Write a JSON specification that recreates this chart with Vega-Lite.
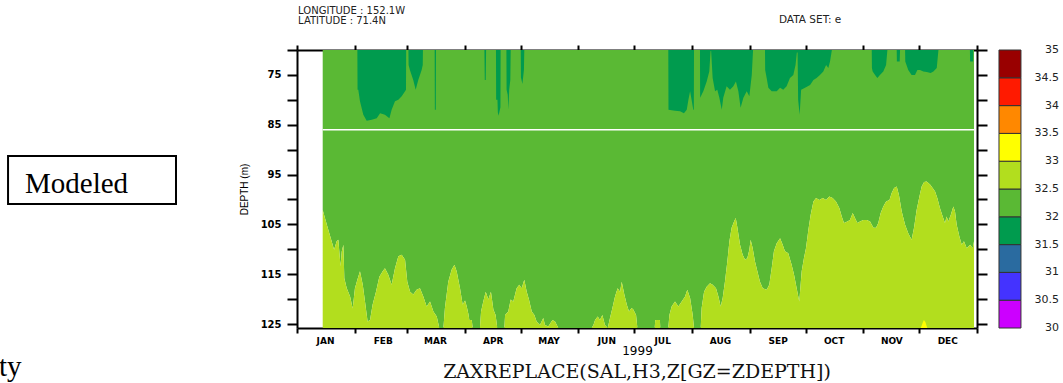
{
"$schema":"https://vega.github.io/schema/vega-lite/v6.json",
"width":680,"height":278,
"autosize":{"type":"none"},
"padding":{"left":297,"top":50,"right":86,"bottom":55},
"background":"white",
"config":{"view":{"stroke":null},"axis":{"grid":false,"domainColor":"black","tickColor":"black","labelColor":"black","titleColor":"black","zindex":1}},
"datasets":{
"bot":[{"day":13.8,"d2":102.1},{"day":15.0,"d2":103.7},{"day":16.8,"d2":106.1},{"day":18.6,"d2":108.4},{"day":19.9,"d2":110.1},{"day":21.3,"d2":108.4},{"day":22.2,"d2":108.1},{"day":22.7,"d2":110.4},{"day":23.4,"d2":113.4},{"day":24.0,"d2":110.5},{"day":24.9,"d2":109.1},{"day":25.4,"d2":115.8},{"day":26.7,"d2":117.8},{"day":28.5,"d2":119.5},{"day":29.9,"d2":121.9},{"day":31.1,"d2":117.8},{"day":32.4,"d2":116.1},{"day":33.8,"d2":114.4},{"day":35.3,"d2":117.1},{"day":36.5,"d2":120.5},{"day":37.9,"d2":124.5},{"day":39.2,"d2":124.2},{"day":40.6,"d2":121.1},{"day":42.4,"d2":118.5},{"day":44.2,"d2":115.5},{"day":46.0,"d2":114.4},{"day":47.2,"d2":113.8},{"day":49.0,"d2":115.1},{"day":50.8,"d2":117.1},{"day":52.6,"d2":113.8},{"day":54.4,"d2":111.4},{"day":56.2,"d2":111.1},{"day":58.0,"d2":112.1},{"day":59.2,"d2":116.5},{"day":60.7,"d2":118.5},{"day":62.4,"d2":119.1},{"day":64.2,"d2":118.1},{"day":66.0,"d2":117.8},{"day":67.8,"d2":119.5},{"day":69.6,"d2":121.5},{"day":71.4,"d2":120.5},{"day":73.2,"d2":122.5},{"day":75.0,"d2":123.5},{"day":76.4,"d2":125.8},{"day":78.6,"d2":125.8},{"day":79.4,"d2":121.8},{"day":81.2,"d2":116.5},{"day":83.0,"d2":114.1},{"day":84.5,"d2":113.1},{"day":85.7,"d2":114.4},{"day":87.5,"d2":117.8},{"day":88.9,"d2":121.1},{"day":90.2,"d2":120.3},{"day":91.1,"d2":121.5},{"day":92.0,"d2":123.0},{"day":92.5,"d2":124.2},{"day":93.8,"d2":124.2},{"day":94.3,"d2":125.8},{"day":98.2,"d2":125.8},{"day":98.8,"d2":122.5},{"day":100.0,"d2":120.5},{"day":101.3,"d2":118.5},{"day":102.7,"d2":120.1},{"day":104.1,"d2":118.5},{"day":105.4,"d2":122.1},{"day":106.6,"d2":123.2},{"day":107.5,"d2":125.8},{"day":111.3,"d2":125.8},{"day":111.7,"d2":123.2},{"day":113.4,"d2":122.5},{"day":114.7,"d2":120.1},{"day":116.1,"d2":120.5},{"day":117.9,"d2":117.8},{"day":119.3,"d2":117.1},{"day":120.6,"d2":117.8},{"day":122.0,"d2":116.1},{"day":123.3,"d2":118.5},{"day":124.5,"d2":120.1},{"day":126.0,"d2":122.5},{"day":127.4,"d2":123.2},{"day":128.6,"d2":124.5},{"day":130.4,"d2":125.2},{"day":132.2,"d2":123.8},{"day":133.1,"d2":125.2},{"day":134.9,"d2":125.5},{"day":137.1,"d2":124.2},{"day":138.5,"d2":124.5},{"day":140.3,"d2":125.8},{"day":158.2,"d2":125.8},{"day":159.1,"d2":125.2},{"day":160.0,"d2":124.2},{"day":161.4,"d2":123.5},{"day":162.6,"d2":124.2},{"day":163.9,"d2":123.2},{"day":165.3,"d2":125.2},{"day":166.8,"d2":125.8},{"day":168.0,"d2":123.8},{"day":169.3,"d2":121.8},{"day":170.7,"d2":119.5},{"day":172.1,"d2":117.8},{"day":173.4,"d2":118.5},{"day":174.3,"d2":116.5},{"day":175.7,"d2":119.1},{"day":177.0,"d2":121.1},{"day":178.2,"d2":122.5},{"day":179.6,"d2":121.8},{"day":180.5,"d2":122.1},{"day":182.0,"d2":123.2},{"day":182.7,"d2":125.8},{"day":192.0,"d2":125.8},{"day":192.3,"d2":124.2},{"day":194.8,"d2":124.2},{"day":195.0,"d2":125.8},{"day":199.3,"d2":125.8},{"day":199.9,"d2":123.2},{"day":201.1,"d2":121.5},{"day":202.9,"d2":120.5},{"day":204.7,"d2":121.5},{"day":206.5,"d2":120.5},{"day":208.3,"d2":119.5},{"day":209.5,"d2":118.1},{"day":211.0,"d2":119.8},{"day":212.4,"d2":123.2},{"day":213.1,"d2":125.8},{"day":216.7,"d2":125.8},{"day":217.2,"d2":121.8},{"day":218.5,"d2":118.5},{"day":219.9,"d2":117.5},{"day":221.7,"d2":116.8},{"day":223.1,"d2":117.1},{"day":224.9,"d2":117.8},{"day":226.2,"d2":119.5},{"day":227.4,"d2":121.5},{"day":228.5,"d2":119.8},{"day":229.7,"d2":116.5},{"day":231.0,"d2":112.4},{"day":232.1,"d2":108.4},{"day":233.3,"d2":105.7},{"day":234.6,"d2":104.4},{"day":235.5,"d2":103.7},{"day":236.4,"d2":105.7},{"day":237.8,"d2":109.1},{"day":239.2,"d2":111.1},{"day":240.5,"d2":112.1},{"day":241.7,"d2":111.8},{"day":242.8,"d2":110.1},{"day":243.5,"d2":108.1},{"day":244.6,"d2":109.8},{"day":245.8,"d2":112.4},{"day":247.1,"d2":114.4},{"day":248.5,"d2":116.5},{"day":250.0,"d2":117.8},{"day":252.1,"d2":118.1},{"day":253.5,"d2":117.1},{"day":254.8,"d2":113.8},{"day":256.0,"d2":110.4},{"day":257.5,"d2":108.8},{"day":259.3,"d2":107.8},{"day":260.7,"d2":109.1},{"day":261.9,"d2":110.4},{"day":263.7,"d2":110.8},{"day":265.5,"d2":113.1},{"day":266.8,"d2":115.1},{"day":268.2,"d2":117.8},{"day":269.6,"d2":120.5},{"day":270.9,"d2":114.4},{"day":272.1,"d2":111.8},{"day":273.2,"d2":109.8},{"day":274.5,"d2":106.1},{"day":275.7,"d2":103.1},{"day":277.2,"d2":100.4},{"day":278.6,"d2":99.7},{"day":280.4,"d2":100.1},{"day":282.2,"d2":99.7},{"day":284.0,"d2":100.1},{"day":285.7,"d2":99.4},{"day":287.5,"d2":99.7},{"day":289.3,"d2":100.4},{"day":291.1,"d2":101.7},{"day":292.4,"d2":103.4},{"day":293.6,"d2":104.7},{"day":295.4,"d2":104.4},{"day":296.8,"d2":104.1},{"day":298.3,"d2":102.7},{"day":299.5,"d2":103.7},{"day":300.8,"d2":104.7},{"day":302.2,"d2":104.4},{"day":304.0,"d2":104.1},{"day":305.8,"d2":104.1},{"day":307.6,"d2":104.4},{"day":309.4,"d2":105.7},{"day":310.8,"d2":105.7},{"day":312.0,"d2":104.7},{"day":313.3,"d2":102.7},{"day":314.7,"d2":101.4},{"day":316.2,"d2":100.4},{"day":318.0,"d2":100.1},{"day":319.2,"d2":98.7},{"day":320.5,"d2":97.7},{"day":321.9,"d2":97.4},{"day":323.1,"d2":99.1},{"day":324.6,"d2":102.4},{"day":326.4,"d2":105.1},{"day":328.1,"d2":106.8},{"day":329.9,"d2":108.1},{"day":331.2,"d2":105.7},{"day":332.6,"d2":102.1},{"day":334.1,"d2":99.4},{"day":335.3,"d2":97.4},{"day":336.6,"d2":96.5},{"day":338.0,"d2":96.4},{"day":339.8,"d2":97.0},{"day":341.2,"d2":97.7},{"day":342.5,"d2":98.4},{"day":343.7,"d2":99.7},{"day":345.1,"d2":101.7},{"day":346.6,"d2":103.4},{"day":347.8,"d2":104.7},{"day":348.7,"d2":103.4},{"day":349.6,"d2":104.4},{"day":350.9,"d2":103.1},{"day":352.3,"d2":101.4},{"day":353.2,"d2":102.4},{"day":354.1,"d2":105.1},{"day":355.5,"d2":107.4},{"day":356.8,"d2":109.1},{"day":358.0,"d2":108.4},{"day":359.5,"d2":109.8},{"day":361.3,"d2":109.1},{"day":362.7,"d2":109.8},{"day":363.4,"d2":108.4}],
"top":[{"day":13.8,"d1":70},{"day":32.4,"d1":70},{"day":32.5,"d1":78.0},{"day":32.9,"d1":78.0},{"day":33.8,"d1":80.3},{"day":35.6,"d1":83.0},{"day":37.4,"d1":84.2},{"day":40.1,"d1":84.0},{"day":42.8,"d1":83.7},{"day":44.6,"d1":82.7},{"day":47.2,"d1":83.0},{"day":49.6,"d1":83.7},{"day":50.8,"d1":82.0},{"day":52.6,"d1":80.3},{"day":54.4,"d1":80.0},{"day":56.2,"d1":79.3},{"day":58.0,"d1":78.3},{"day":58.5,"d1":78.0},{"day":58.6,"d1":70},{"day":59.8,"d1":70},{"day":59.9,"d1":73.0},{"day":60.6,"d1":74.0},{"day":62.4,"d1":76.0},{"day":63.7,"d1":78.0},{"day":65.1,"d1":76.0},{"day":66.9,"d1":74.0},{"day":67.5,"d1":73.0},{"day":67.6,"d1":70},{"day":73.9,"d1":70},{"day":74.0,"d1":82.0},{"day":74.5,"d1":82.0},{"day":74.6,"d1":70},{"day":100.6,"d1":70},{"day":100.8,"d1":76.0},{"day":101.3,"d1":76.0},{"day":101.5,"d1":70},{"day":106.8,"d1":70},{"day":106.9,"d1":80.0},{"day":107.6,"d1":80.0},{"day":107.8,"d1":82.5},{"day":108.2,"d1":83.2},{"day":108.9,"d1":82.0},{"day":109.2,"d1":81.5},{"day":109.3,"d1":70},{"day":112.4,"d1":70},{"day":112.5,"d1":78.0},{"day":113.1,"d1":79.0},{"day":113.5,"d1":82.0},{"day":113.9,"d1":78.0},{"day":114.5,"d1":76.0},{"day":114.7,"d1":70},{"day":120.1,"d1":70},{"day":120.2,"d1":75.5},{"day":121.0,"d1":76.8},{"day":121.8,"d1":74.0},{"day":122.0,"d1":70},{"day":199.3,"d1":70},{"day":199.4,"d1":82.0},{"day":202.9,"d1":82.2},{"day":205.6,"d1":82.3},{"day":207.7,"d1":82.7},{"day":209.2,"d1":82.0},{"day":210.1,"d1":80.0},{"day":211.0,"d1":78.3},{"day":211.8,"d1":80.0},{"day":212.7,"d1":82.0},{"day":213.0,"d1":82.0},{"day":213.1,"d1":70},{"day":216.3,"d1":70},{"day":216.4,"d1":79.6},{"day":218.1,"d1":78.3},{"day":219.9,"d1":76.3},{"day":221.3,"d1":74.3},{"day":222.0,"d1":70.2},{"day":222.3,"d1":70.2},{"day":223.1,"d1":75.6},{"day":224.4,"d1":78.3},{"day":225.6,"d1":78.0},{"day":226.7,"d1":79.6},{"day":228.0,"d1":82.0},{"day":228.8,"d1":79.6},{"day":230.6,"d1":77.3},{"day":232.4,"d1":78.0},{"day":234.2,"d1":77.3},{"day":235.6,"d1":76.3},{"day":236.9,"d1":78.3},{"day":238.1,"d1":81.6},{"day":239.6,"d1":79.6},{"day":241.4,"d1":78.3},{"day":242.8,"d1":79.3},{"day":244.1,"d1":75.0},{"day":244.8,"d1":70},{"day":251.2,"d1":70},{"day":251.3,"d1":74.0},{"day":252.1,"d1":75.6},{"day":253.0,"d1":77.6},{"day":254.8,"d1":78.3},{"day":257.5,"d1":78.3},{"day":259.3,"d1":77.6},{"day":261.0,"d1":78.0},{"day":262.8,"d1":77.3},{"day":264.6,"d1":75.6},{"day":266.4,"d1":75.0},{"day":267.6,"d1":73.0},{"day":268.3,"d1":70.5},{"day":268.7,"d1":70.5},{"day":269.0,"d1":80.0},{"day":269.8,"d1":83.0},{"day":270.6,"d1":78.0},{"day":272.7,"d1":77.6},{"day":275.4,"d1":77.0},{"day":277.2,"d1":76.0},{"day":278.9,"d1":75.6},{"day":280.7,"d1":75.0},{"day":282.5,"d1":74.3},{"day":284.0,"d1":73.0},{"day":285.2,"d1":73.6},{"day":286.1,"d1":72.3},{"day":287.1,"d1":70},{"day":308.5,"d1":70},{"day":308.6,"d1":73.6},{"day":309.0,"d1":74.3},{"day":310.3,"d1":75.0},{"day":311.5,"d1":75.6},{"day":312.9,"d1":75.0},{"day":314.7,"d1":74.3},{"day":316.2,"d1":73.0},{"day":316.9,"d1":70},{"day":321.9,"d1":70},{"day":322.0,"d1":72.3},{"day":323.5,"d1":72.3},{"day":323.7,"d1":70},{"day":326.4,"d1":70},{"day":326.5,"d1":72.3},{"day":328.1,"d1":74.0},{"day":329.9,"d1":75.0},{"day":331.7,"d1":75.0},{"day":333.0,"d1":74.0},{"day":334.4,"d1":74.0},{"day":336.2,"d1":74.3},{"day":338.0,"d1":74.4},{"day":340.1,"d1":74.6},{"day":341.6,"d1":74.3},{"day":343.4,"d1":73.6},{"day":344.3,"d1":70},{"day":361.2,"d1":70},{"day":361.3,"d1":72.3},{"day":362.9,"d1":72.3},{"day":363.0,"d1":70},{"day":363.4,"d1":70}],
"yel":[{"day":334.8,"d":125.8},{"day":335.8,"d":124.8},{"day":336.5,"d":124.2},{"day":337.3,"d":124.6},{"day":338.3,"d":125.8}],
"cbar":[{"lo":30,"hi":30.5},{"lo":30.5,"hi":31},{"lo":31,"hi":31.5},{"lo":31.5,"hi":32},{"lo":32,"hi":32.5},{"lo":32.5,"hi":33},{"lo":33,"hi":33.5},{"lo":33.5,"hi":34},{"lo":34,"hi":34.5},{"lo":34.5,"hi":35}],
"cbl":[{"v":30},{"v":30.5},{"v":31},{"v":31.5},{"v":32},{"v":32.5},{"v":33},{"v":33.5},{"v":34},{"v":34.5},{"v":35}]
},
"layer":[
{"layer":[
 {"data":{"name":"bot"},"mark":{"type":"area","orient":"vertical","interpolate":"linear"},
  "encoding":{
   "x":{"field":"day","type":"quantitative","stack":null,"scale":{"domain":[0,365],"nice":false,"zero":false},"axis":{"orient":"bottom","values":[0,31,59,90,120,151,181,212,243,273,304,334,365],"labelExpr":"datum.value >= 365 ? '' : upper(timeFormat(datetime(1999, 0, 1 + datum.value), '%b'))","labelOffset":28,"labelFlush":false,"labelOverlap":false,"labelBound":false,"tickSize":5,"tickWidth":2,"domainWidth":2,"labelFont":"DejaVu Sans","labelFontWeight":"bold","labelFontSize":9,"labelPadding":3,"title":"1999","titleFont":"DejaVu Sans","titleFontSize":12,"titleFontWeight":"normal","titlePadding":0}},
   "y":{"field":"d2","type":"quantitative","stack":null,"scale":{"domain":[70,125.8],"nice":false,"zero":false,"reverse":true},"axis":{"orient":"left","values":[70,75,80,85,90,95,100,105,110,115,120,125],"labelExpr":"datum.value % 10 == 5 ? datum.label : ''","labelOverlap":false,"tickSize":10,"tickWidth":2,"domainWidth":2,"labelFont":"DejaVu Sans","labelFontWeight":"bold","labelFontSize":10,"labelPadding":6,"title":"DEPTH (m)","titleFont":"Liberation Sans","titleFontSize":10,"titleFontWeight":"normal","titlePadding":11}},
   "y2":{"datum":70},
   "color":{"datum":32.25,"type":"quantitative","scale":{"type":"threshold","domain":[30.5,31,31.5,32,32.5,33,33.5,34,34.5],"range":["#cc00ff","#4433ff","#2a6ba0","#009b4e","#5ab934","#b2de1e","#ffff00","#ff8800","#ff1a00","#990000"]},"legend":null}}},
 {"data":{"name":"bot"},"mark":{"type":"area","orient":"vertical","interpolate":"linear"},
  "encoding":{
   "x":{"field":"day","type":"quantitative","stack":null,"axis":{"orient":"top","values":[0,31,59,90,120,151,181,212,243,273,304,334,365],"labels":false,"tickSize":5,"tickWidth":2,"domainWidth":2,"title":null}},
   "y":{"field":"d2","type":"quantitative","stack":null,"axis":{"orient":"right","values":[70,75,80,85,90,95,100,105,110,115,120,125],"labels":false,"tickSize":10,"tickWidth":2,"domainWidth":2,"title":null}},
   "y2":{"datum":125.8},
   "color":{"datum":32.75,"type":"quantitative","scale":{"type":"threshold","domain":[30.5,31,31.5,32,32.5,33,33.5,34,34.5],"range":["#cc00ff","#4433ff","#2a6ba0","#009b4e","#5ab934","#b2de1e","#ffff00","#ff8800","#ff1a00","#990000"]},"legend":null}}},
 {"data":{"name":"top"},"mark":{"type":"area","orient":"vertical","interpolate":"linear"},
  "encoding":{
   "x":{"field":"day","type":"quantitative","stack":null,"axis":null},
   "y":{"field":"d1","type":"quantitative","stack":null,"axis":null},
   "y2":{"datum":70},
   "color":{"datum":31.75,"type":"quantitative","scale":{"type":"threshold","domain":[30.5,31,31.5,32,32.5,33,33.5,34,34.5],"range":["#cc00ff","#4433ff","#2a6ba0","#009b4e","#5ab934","#b2de1e","#ffff00","#ff8800","#ff1a00","#990000"]},"legend":null}}},
 {"data":{"name":"yel"},"mark":{"type":"area","orient":"vertical","interpolate":"linear"},
  "encoding":{
   "x":{"field":"day","type":"quantitative","stack":null,"axis":null},
   "y":{"field":"d","type":"quantitative","stack":null,"axis":null},
   "y2":{"datum":125.8},
   "color":{"datum":33.25,"type":"quantitative","scale":{"type":"threshold","domain":[30.5,31,31.5,32,32.5,33,33.5,34,34.5],"range":["#cc00ff","#4433ff","#2a6ba0","#009b4e","#5ab934","#b2de1e","#ffff00","#ff8800","#ff1a00","#990000"]},"legend":null}}},
 {"data":{"values":[{}]},"mark":{"type":"rule","color":"white","strokeWidth":1.5},
  "encoding":{"x":{"datum":13.8,"type":"quantitative","axis":null},"x2":{"datum":363.4},"y":{"datum":86,"type":"quantitative","axis":null}}},
 {"data":{"values":[{}]},"mark":{"type":"text","align":"left","baseline":"alphabetic","font":"DejaVu Sans","fontSize":10,"lineHeight":10,"color":"#222222"},
  "encoding":{"x":{"datum":0.6,"type":"quantitative","axis":null},"y":{"datum":62.7,"type":"quantitative","axis":null},"text":{"value":["LONGITUDE : 152.1W","LATITUDE : 71.4N"]}}},
 {"data":{"values":[{}]},"mark":{"type":"text","align":"left","baseline":"alphabetic","font":"DejaVu Sans","fontSize":10.5,"color":"#222222"},
  "encoding":{"x":{"datum":258.7,"type":"quantitative","axis":null},"y":{"datum":64.6,"type":"quantitative","axis":null},"text":{"value":"DATA SET: e"}}},
 {"data":{"values":[{}]},"mark":{"type":"text","align":"center","baseline":"alphabetic","font":"DejaVu Serif","fontSize":19,"color":"#111111"},
  "encoding":{"x":{"datum":182.5,"type":"quantitative","axis":null},"y":{"datum":135.9,"type":"quantitative","axis":null},"text":{"value":"ZAXREPLACE(SAL,H3,Z[GZ=ZDEPTH])"}}},
 {"data":{"values":[{}]},"mark":{"type":"rect","filled":false,"color":"black","strokeWidth":2},
  "encoding":{"x":{"datum":-155.1,"type":"quantitative","axis":null},"x2":{"datum":-64.95},"y":{"datum":91.28,"type":"quantitative","axis":null},"y2":{"datum":100.91}}},
 {"data":{"values":[{}]},"mark":{"type":"text","align":"left","baseline":"alphabetic","font":"Liberation Serif","fontSize":29,"color":"black"},
  "encoding":{"x":{"datum":-146.0,"type":"quantitative","axis":null},"y":{"datum":98.7,"type":"quantitative","axis":null},"text":{"value":"Modeled"}}},
 {"data":{"values":[{}]},"mark":{"type":"text","align":"left","baseline":"alphabetic","font":"Liberation Serif","fontSize":29,"color":"black"},
  "encoding":{"x":{"datum":-160.0,"type":"quantitative","axis":null},"y":{"datum":135.4,"type":"quantitative","axis":null},"text":{"value":"ty"}}}
 ],
 "resolve":{"axis":{"x":"independent","y":"independent"}}},
{"layer":[
 {"data":{"name":"cbar"},"mark":{"type":"rect","stroke":"#333333","strokeWidth":1},
  "encoding":{
   "x":{"datum":376.8,"type":"quantitative","axis":null},"x2":{"datum":388.6},
   "y":{"field":"lo","type":"quantitative","scale":{"domain":[30,35],"nice":false,"zero":false},"axis":null},"y2":{"field":"hi"},
   "color":{"field":"lo","type":"quantitative","scale":{"type":"threshold","domain":[30.5,31,31.5,32,32.5,33,33.5,34,34.5],"range":["#cc00ff","#4433ff","#2a6ba0","#009b4e","#5ab934","#b2de1e","#ffff00","#ff8800","#ff1a00","#990000"]},"legend":null}}},
 {"data":{"name":"cbl"},"mark":{"type":"text","align":"right","baseline":"middle","font":"DejaVu Sans","fontSize":11,"color":"#222222"},
  "encoding":{
   "x":{"datum":409.0,"type":"quantitative","axis":null},
   "y":{"field":"v","type":"quantitative","axis":null},
   "text":{"field":"v","type":"quantitative"}}}
 ]}
],
"resolve":{"scale":{"y":"independent"}}
}
